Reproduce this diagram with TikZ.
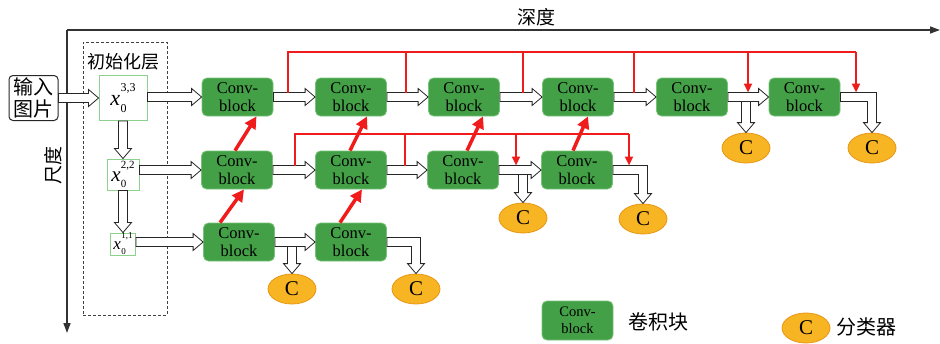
\documentclass[tikz,border=0pt]{standalone}
\usepackage{fontspec}
\setmainfont{Liberation Serif}
\newfontfamily\cjk{Noto Sans CJK SC}
\usetikzlibrary{arrows.meta,calc,shapes.geometric}
\definecolor{convgreen}{RGB}{67,160,71}
\definecolor{convborder}{RGB}{120,195,120}
\definecolor{corange}{RGB}{247,180,35}
\definecolor{cborder}{RGB}{232,150,20}
\definecolor{skipred}{RGB}{240,28,28}
\definecolor{xborder}{RGB}{140,210,140}
\definecolor{axisgray}{RGB}{50,50,50}
\newcommand{\xlab}[3]{\fontsize{#1}{#1}\selectfont\textit{x}\kern0.3pt\rlap{\raisebox{-0.32em}{\fontsize{#2}{#2}\selectfont 0}}\raisebox{0.62em}{\fontsize{#2}{#2}\selectfont #3}}
\tikzset{
  block/.style={rounded corners=5pt, fill=convgreen, draw=convborder, line width=0.8pt,
    minimum width=71pt, minimum height=38pt, inner sep=0pt, align=center,
    font=\fontsize{16.5}{17.5}\selectfont},
  clf/.style={ellipse, fill=corange, draw=cborder, line width=0.8pt, minimum width=48pt,
    minimum height=30pt, inner sep=0pt, font=\fontsize{21}{21}\selectfont},
  xbox/.style={draw=xborder, fill=white, line width=0.9pt, inner sep=0pt},
  hollow/.style={draw=black!85, fill=white, line width=0.8pt,
    to path={let \p1=(\tikztostart), \p2=(\tikztotarget), \n1={atan2(\y2-\y1,\x2-\x1)} in
      ($(\p1)+(\n1+90:4.5pt)$) -- ($(\p2)+(\n1+180:10pt)+(\n1+90:4.5pt)$)
      -- ($(\p2)+(\n1+180:10pt)+(\n1+90:8.5pt)$) -- (\p2)
      -- ($(\p2)+(\n1+180:10pt)+(\n1-90:8.5pt)$) -- ($(\p2)+(\n1+180:10pt)+(\n1-90:4.5pt)$)
      -- ($(\p1)+(\n1-90:4.5pt)$) -- cycle}},
  hollowL/.style={draw=black!85, fill=white, line width=0.8pt,
    to path={let \p1=(\tikztostart), \p2=(\tikztotarget) in
      (\x1,\y1+4.5pt) -- (\x2+4.5pt,\y1+4.5pt) -- (\x2+4.5pt,\y2+10pt) -- (\x2+8.5pt,\y2+10pt)
      -- (\p2) -- (\x2-8.5pt,\y2+10pt) -- (\x2-4.5pt,\y2+10pt) -- (\x2-4.5pt,\y1-4.5pt)
      -- (\x1,\y1-4.5pt) -- cycle}},
  skip/.style={draw=skipred, line width=2.2pt},
  skiparr/.style={skip, -{Triangle[length=9pt,width=8pt]}},
  uparr/.style={draw=skipred, line width=3.5pt, -{Triangle[length=12pt,width=12pt]}},
  axis/.style={draw=axisgray, line width=1.5pt, -{Triangle[length=10pt,width=7pt]}},
  dashbox/.style={draw=black!75, line width=1pt, dash pattern=on 3pt off 2pt, inner sep=0pt},
  cjklab/.style={inner sep=0pt, font=\cjk\fontsize{19}{22}\selectfont}
}
\begin{document}
\begin{tikzpicture}[x=1pt,y=-1pt]
\useasboundingbox (0,0) rectangle (940,343);
% axes
\coordinate (O) at (67,30);
\coordinate (X) at (940,30);
\coordinate (Y) at (67,333);
\draw[axis] (O) -- (X);
\draw[axis] (O) -- (Y);
\node[cjklab] (depth) at (536,17) {深度};
\node[cjklab, rotate=90] (scale) at (53,165) {尺度};
% init layer
\node[dashbox, minimum width=84pt, minimum height=273pt] (init) at (125,178.5) {};
\node[cjklab, font=\cjk\fontsize{18}{20}\selectfont] (initlab) at (123,62) {初始化层};
\node[draw=black!85, line width=1pt, rounded corners=4pt, minimum width=49pt, minimum height=45pt,
  inner sep=0pt, align=center, font=\cjk\fontsize{20}{22}\selectfont] (in) at (33.5,98) {输入\\图片};
\node[xbox, minimum width=48pt, minimum height=45pt] (x33) at (123,98) {\xlab{22}{12}{3,3}};
\node[xbox, minimum width=32pt, minimum height=31pt] (x22) at (123,174.5) {\xlab{21}{11}{2,2}};
\node[xbox, minimum width=25pt, minimum height=22pt] (x11) at (123,244) {\xlab{17}{9}{1,1}};
% blocks
\node[block] (b11) at (237.5,97) {Conv-\\block};
\node[block] (b12) at (351,97) {Conv-\\block};
\node[block] (b13) at (464,97) {Conv-\\block};
\node[block] (b14) at (578,97) {Conv-\\block};
\node[block] (b15) at (692,97) {Conv-\\block};
\node[block] (b16) at (804.5,97) {Conv-\\block};
\node[block] (b21) at (237,170) {Conv-\\block};
\node[block] (b22) at (351,170) {Conv-\\block};
\node[block] (b23) at (463,170) {Conv-\\block};
\node[block] (b24) at (577,170) {Conv-\\block};
\node[block] (b31) at (239,242) {Conv-\\block};
\node[block] (b32) at (351,242) {Conv-\\block};
% classifiers
\node[clf] (c15) at (746,148) {C};
\node[clf] (c16) at (872,148) {C};
\node[clf] (c23) at (523,218) {C};
\node[clf] (c24) at (643,219) {C};
\node[clf] (c31) at (292,289) {C};
\node[clf] (c32) at (416,289) {C};
% hollow arrows: init
\draw[hollow] (in.east |- x33.west) to (x33.west);
\draw[hollow] (x33.east |- b11.west) to (b11.west);
\draw[hollow] (x33.south) to (x22.north);
\draw[hollow] (x22.east |- b21.west) to (b21.west);
\draw[hollow] (x22.south) to (x11.north);
\draw[hollow] (x11.east |- b31.west) to (b31.west);
% row 1
\draw[hollow] (b11.east) to (b12.west);
\draw[hollow] (b12.east) to (b13.west);
\draw[hollow] (b13.east) to (b14.west);
\draw[hollow] (b14.east) to (b15.west);
\draw[hollow] (b15.east) to (b16.west);
\draw[hollow] ($(c15.north |- b15.east)+(0,-4.5pt)$) to (c15.north);
\draw[hollowL] (b16.east) to (c16.north);
% row 2
\draw[hollow] (b21.east) to (b22.west);
\draw[hollow] (b22.east) to (b23.west);
\draw[hollow] (b23.east) to (b24.west);
\draw[hollow] ($(c23.north |- b23.east)+(0,-4.5pt)$) to (c23.north);
\draw[hollowL] (b24.east) to (c24.north);
% row 3
\draw[hollow] (b31.east) to (b32.west);
\draw[hollow] ($(c31.north |- b31.east)+(0,-4.5pt)$) to (c31.north);
\draw[hollowL] (b32.east) to (c32.north);
% red skip connections, row 1
\coordinate (r1a) at (288,92.5);
\coordinate (r1b) at (406,92.5);
\coordinate (r1c) at (523,92.5);
\coordinate (r1d) at (634,92.5);
\coordinate (r1e) at (748,92.5);
\coordinate (r1f) at (856,92.5);
\coordinate (t1a) at (288,52);
\coordinate (t1f) at (856,52);
\draw[skip] (r1a) -- (t1a) -- (t1f);
\draw[skiparr] (t1f) -- (r1f);
\draw[skip] (r1b) -- (r1b |- t1a);
\draw[skip] (r1c) -- (r1c |- t1a);
\draw[skip] (r1d) -- (r1d |- t1a);
\draw[skiparr] (r1e |- t1a) -- (r1e);
% red skip connections, row 2
\coordinate (r2a) at (295,165.5);
\coordinate (r2b) at (405,165.5);
\coordinate (r2c) at (516,165.5);
\coordinate (r2d) at (629,165.5);
\coordinate (t2a) at (295,134);
\coordinate (t2d) at (629,134);
\draw[skip] (r2a) -- (t2a) -- (t2d);
\draw[skiparr] (t2d) -- (r2d);
\draw[skip] (r2b) -- (r2b |- t2a);
\draw[skiparr] (r2c |- t2a) -- (r2c);
% red upsampling arrows
\draw[uparr] ([xshift=-2pt]b21.north) -- ([xshift=19pt]b11.south);
\draw[uparr] ([xshift=-1pt]b22.north) -- ([xshift=16pt]b12.south);
\draw[uparr] ([xshift=4pt]b23.north) -- ([xshift=19pt]b13.south);
\draw[uparr] ([xshift=-4pt]b24.north) -- ([xshift=10pt]b14.south);
\draw[uparr] ([xshift=-19pt]b31.north) -- ([xshift=7pt]b21.south);
\draw[uparr] ([xshift=-11pt]b32.north) -- ([xshift=11pt]b22.south);
% legend
\node[block, minimum height=39pt, font=\fontsize{14.5}{17.5}\selectfont] (lb) at (577.5,320.5) {Conv-\\block};
\node[cjklab, font=\cjk\fontsize{20}{22}\selectfont] (lbt) at (658,322) {卷积块};
\node[clf] (lc) at (806,328) {C};
\node[cjklab, font=\cjk\fontsize{20}{22}\selectfont] (lct) at (866,327) {分类器};
\end{tikzpicture}
\end{document}
